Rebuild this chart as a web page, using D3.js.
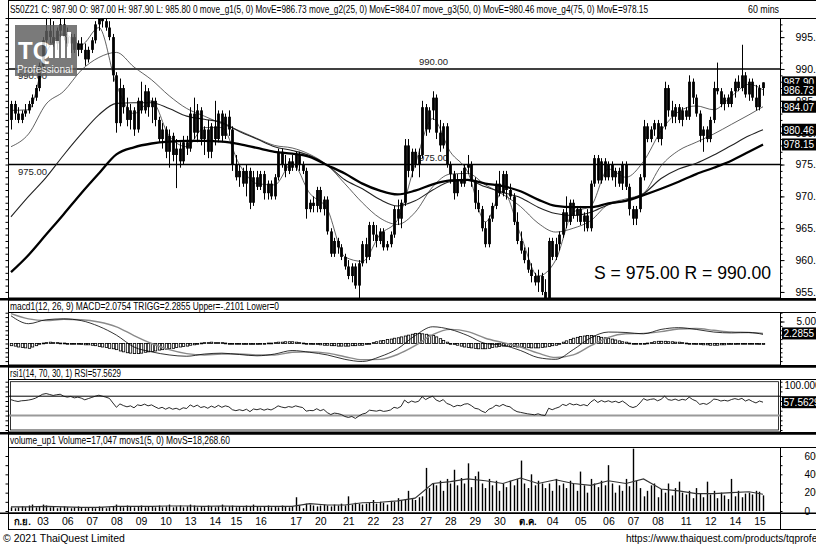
<!DOCTYPE html>
<html>
<head>
<meta charset="utf-8">
<script src="https://cdn.jsdelivr.net/npm/d3@7"></script>
<style>
  body { margin: 0; background: #fff; }
  text { font-family: "Liberation Sans", Arial, sans-serif; }
</style>
</head>
<body>
<svg id="chart" width="816" height="547"></svg>
<script>
// ---- data ----
const dayLabels = ["ก.ย.","03","06","07","08","09","10","13","14","15","16","17","20","21","22","23","27","28","29","30","ต.ค.","04","05","06","07","08","11","12","14","15"];
const dayStart  = [0,9,16,23,30,37,44,51,58,64,71,81,88,96,103,110,118,125,132,139,147,154,162,170,177,184,192,199,206,213];

// hourly bars: [open, high, low, close]
const candles = [
[982,985,980.5,984.5],[984.5,985,982,983],[983,984,981.5,982],[982,983.5,981.5,983],[983,984.5,982.5,983.5],
[983.5,985,983,984.5],[984.5,986,984,985.5],[985.5,987.5,985,987],[987,991,986.5,990.5],[990.5,995,990,994.5],
[994.5,998,993.5,996],[996,998,994,995],[995,997.5,993.5,994],[994,996.5,993,996],[996,998,995,997],
[997,998,994.5,995],[995,996.5,993.5,994],[994,995.5,992.5,995],[995,995.5,992.5,993],[993,994.5,992,994],
[994,995,992.5,993],[993,994,990.5,991.5],[991.5,993.5,991,993],[993,995,992.5,994.5],[994.5,997.5,994,997],
[997,999,996,998.5],[998.5,999.5,996.5,997.5],[997.5,999,996,996.5],[996.5,997.5,994.5,995],[995,995.5,988,989],
[989,989.5,980,981.5],[981.5,988.5,981,987],[987,987.5,983,984],[984,985.5,981,982],[982,984.5,980.5,983.5],
[983.5,984,979.5,980.5],[980.5,985.5,980,985],[985,988,983,983.5],[983.5,987.5,983,986.5],[986.5,987,982.5,984],
[984,985.5,981.5,985],[985,985.5,981,982],[982,982.5,978.5,979],[979,981.5,977.5,980.5],[980.5,981,976,977],
[977,980.5,974.5,979.5],[979.5,980,975.5,976.5],[976.5,979,971.3,977.5],[977.5,978.5,974.5,975.5],[975.5,979.5,975,978.5],
[978.5,979.5,976.5,977.5],[977.5,984,977,983],[983,985.5,979,980],[980,984.5,978.5,983.5],[983.5,984,978,979],
[979,981,976.5,980.5],[980.5,982,976,977],[977,981.5,976,981],[981,985,978,979],[979,983.5,978.5,983],
[983,983.5,978.5,979.5],[979.5,983,979,982.5],[982.5,983.5,979.5,980.5],[980.5,981,974,975],[975,976.5,972.5,973],
[973,975,971.5,974],[974,974.5,971.5,972],[972,975,970,974],[974,974.5,968,969],[969,974,968.5,973],
[973,974,971,971.5],[971.5,974,971,973.5],[973.5,974,969.5,970.5],[970.5,972.5,969.5,972],[972,972.5,969.5,970],
[970,973.5,969.5,973],[973,977.5,972.5,977],[977,977.5,974.5,975],[975,976.5,973,974],[974,976,973.5,975.5],
[975.5,976.5,974,974.5],[974.5,977,974,976.5],[976.5,977,974,975],[975,975.5,973.5,974],[974,974.5,966.5,968],
[968,969.5,967.5,969],[969,970,967.5,968.5],[968.5,971.5,967.5,971],[971,971.5,967.5,968],[968,970,967,969.5],
[969.5,970,964,964.5],[964.5,965,960.5,961],[961,963.5,960.5,963],[963,963.5,961,962],[962,962.5,960,960.5],
[960.5,961,958.5,959],[959,960,957,957.5],[957.5,959.5,956.5,959],[959,959.5,955.5,956],[956,960,954,959.5],
[959.5,963,959,962.5],[962.5,963.5,959.5,960.5],[960.5,966,960,965.5],[965.5,966,963,964],[964,965.5,962,963],
[963,965,962.5,964.5],[964.5,965,961.5,962],[962,963,961.5,962.5],[962.5,964.5,962,964],[964,968.5,963.5,968],
[968,969.5,965.5,966.5],[966.5,969.5,965,969],[969,979,968.5,978],[978,979,973,974],[974,977.5,973,977],
[977,977.5,974.5,975],[975,977.5,973,976.5],[976.5,985,976,984],[984,984.5,979.5,980.5],[980.5,984,980,983.5],
[983.5,986.5,982,985.5],[985.5,986,979,980],[980,982,977,978],[978,981.5,977.5,981],[981,981.5,974.5,975],
[975,975.5,972,973.5],[973.5,974,969.5,970.5],[970.5,973.5,970,972.5],[972.5,974,971.5,972],[972,975,971.5,974.5],
[974.5,976.5,973.5,975],[975,975.5,971.5,972.5],[972.5,973,968,969],[969,971,967.5,968],[968,968.5,964.5,965],
[965,966,962,962.5],[962.5,967,962,966.5],[966.5,969,966,968.5],[968.5,972.5,968,972],[972,974,970,970.5],
[970.5,974,970,973.5],[973.5,974,969.5,971],[971,972,969.5,970],[970,970.5,965.5,966],[966,967.5,962.5,963],
[963,964.5,961,961.5],[961.5,962,959.5,960],[960,962,958,958.5],[958.5,959.5,956.5,957.5],[957.5,958,956,956.5],
[956.5,958.5,955,957.5],[957.5,958,954.5,955],[955,957,953.5,954],[954,963.5,953.5,963],[963,963.5,960,960.5],
[960.5,963.5,960,962.5],[962.5,964.5,961.5,964],[964,968,963.5,967.5],[967.5,970,965,966],[966,969.5,965.5,969],
[969,969.5,966.5,967],[967,968.5,966,968],[968,968.5,965.5,966],[966,967.5,964.5,967],[967,968,964.5,965],
[965,972.5,964.5,972],[972,976.5,971.5,976],[976,976.5,972,972.5],[972.5,976,972,975.5],[975.5,976,972.5,973],
[973,975.5,972.5,975],[975,975.5,972.5,973],[973,974.5,971.5,974],[974,974.5,971.5,972],[972,975.5,971,975],
[975,975.5,971,971.5],[971.5,972,967,968],[968,968.5,965.5,966.5],[966.5,968.5,965.5,968],[968,973.5,967.5,973],
[973,982,972.5,981],[981,981.5,978.5,979],[979,981,978.5,980.5],[980.5,982,979.5,981.5],[981.5,982,978.5,979],
[979,981.5,978,981],[981,988,980.5,987],[987,987.5,982.5,983.5],[983.5,985,981.5,982.5],[982.5,984.5,981.5,984],
[984,984.5,981.5,982],[982,984,981,983.5],[983.5,984,982,982.5],[982.5,989,982,988],[988,988.5,984.5,985.5],
[985.5,986,982.5,983],[983,983.5,978.5,979.5],[979.5,981,977,980.5],[980.5,981,978.5,979],[979,982.5,978.5,982],
[982,988,981.5,987],[987,991,986,986.5],[986.5,987,984,984.5],[984.5,986,983.5,985.5],[985.5,986,984,984.5],
[984.5,987,984,986.5],[986.5,988.5,985.5,988],[988,989,986.5,987],[987,993.8,986.5,989],[989,989.5,985.5,986],
[986,988.5,985,988],[988,988.5,985,985.5],[985.5,987.5,983.5,984],[984,987.5,983.5,987],[987,987.9,985.8,987.9]
];

// indicator lines, read every 5 bars
const lineIdx = [0,5,10,15,20,25,30,35,40,45,50,55,60,65,70,75,80,85,90,95,100,105,110,115,120,125,130,135,140,145,150,155,160,165,170,175,180,185,190,195,200,205,210,214];
const moveG1 = [983.5,983.6,992.5,995.5,993.8,996.5,987.5,983,985,979.5,977.8,980.8,980.8,975,972,971.8,975.2,970.5,968,960.5,959.8,964,966.3,975,982.2,977,973.8,966,970.8,964,957.5,960,967.5,968.5,974.3,973,975.5,980.3,983.3,984.2,983.6,985.7,987.6,986.73];
const moveG2 = [977.8,979.8,984.5,986.5,989.8,991.8,992.6,990.3,988.3,985.8,983.8,982.6,981.4,980.3,979.1,978,977.6,976.6,974.9,972,969,966.6,965.6,967.5,971.5,973.5,973.6,971.8,970.3,968.4,965.8,964.4,965,966.2,968.8,969.6,970.5,974.8,977.2,978.5,979.8,981.3,982.8,984.07];
const moveG3 = [966.8,970,973,976.5,979.8,982.8,984.6,984.7,984.7,983.8,982.6,982.1,981.6,980.2,979,977.8,977.2,976.4,974.9,972.6,971.2,969.5,968.5,969.3,971,972.3,972.5,971.5,970.6,969.8,968.3,967.3,967,967.5,968.7,969.4,970.4,972.8,974.3,975.2,976.5,978,979.5,980.46];
const moveG4 = [958.1,960.8,964,967.2,970.5,973.6,976.6,977.7,978.3,978.6,978.7,978.7,978.6,978.2,977.6,977,976.7,976.2,974.9,973.6,972,970.9,970.3,970.9,971.9,972.5,972.6,972,971.6,970.8,969.5,968.5,968.3,968.3,968.9,969.3,970.2,971.2,972.3,973.5,974.5,975.6,977,978.15];

const macdVals = [6.3,4.5,5.4,5.6,5.2,3.9,1.9,-0.8,-1.9,-2.6,-2.9,-2.4,-2.2,-2.5,-2.8,-2.4,-1.6,-2.0,-2.6,-3.6,-4.1,-3.0,-1.2,1.8,3.8,3.2,1.8,0.0,-0.4,-1.6,-3.2,-3.6,-1.4,1.3,2.6,2.5,2.2,3.2,3.6,3.2,2.6,2.4,2.5,2.0754];
const triggVals = [6.8,5.6,5.2,5.5,5.4,4.9,3.8,1.8,0.0,-1.4,-2.3,-2.6,-2.4,-2.4,-2.6,-2.6,-2.0,-1.9,-2.2,-3.0,-3.7,-3.6,-2.5,-0.5,2.0,3.2,2.7,1.2,0.2,-0.8,-2.2,-3.2,-2.6,-0.5,1.4,2.2,2.3,2.7,3.3,3.4,3.0,2.6,2.5,2.2855];
const macdHist = [
-0.5,-0.6,-0.8,-0.9,-1.0,-1.1,-0.8,-0.5,-0.1,0.1,0.2,0.3,0.2,0.2,0.1,0.1,0.0,0.0,-0.1,-0.1,
-0.2,-0.3,-0.3,-0.4,-0.5,-0.7,-0.8,-0.9,-1.1,-1.2,-1.4,-1.7,-1.9,-2.1,-2.2,-2.3,-2.3,-2.2,-2.0,-1.9,
-1.8,-1.7,-1.5,-1.4,-1.3,-1.2,-1.1,-0.9,-0.8,-0.7,-0.6,-0.4,-0.3,-0.1,0.1,0.2,0.2,0.3,0.2,0.2,
0.2,0.1,0.0,0.0,-0.1,-0.1,-0.2,-0.2,-0.2,-0.2,-0.2,-0.1,0.0,0.1,0.1,0.2,0.3,0.3,0.4,0.4,
0.4,0.3,0.2,0.1,0.0,-0.1,-0.2,-0.2,-0.3,-0.4,-0.4,-0.5,-0.5,-0.6,-0.6,-0.6,-0.6,-0.5,-0.5,-0.4,
-0.4,-0.2,0.0,0.2,0.4,0.6,0.7,0.9,1.0,1.2,1.3,1.5,1.7,1.9,2.1,2.3,2.3,2.2,2.1,1.9,
1.8,1.5,1.1,0.7,0.3,0.0,-0.2,-0.4,-0.6,-0.8,-0.9,-1.0,-1.1,-1.2,-1.2,-1.2,-1.1,-0.9,-0.8,-0.7,
-0.6,-0.6,-0.7,-0.7,-0.8,-0.8,-0.9,-0.9,-1.0,-1.0,-1.0,-0.9,-0.8,-0.7,-0.5,-0.4,-0.1,0.3,0.6,0.9,
1.2,1.4,1.6,1.7,1.8,1.8,1.7,1.6,1.4,1.3,1.2,1.0,0.8,0.6,0.4,0.3,0.1,0.0,-0.1,-0.1,
-0.1,0.1,0.2,0.4,0.5,0.5,0.5,0.4,0.4,0.3,0.3,0.2,0.1,0.0,-0.1,-0.2,-0.2,-0.3,-0.3,-0.4,
-0.4,-0.4,-0.3,-0.3,-0.2,-0.2,-0.2,-0.1,-0.1,0.0,0.0,-0.1,-0.1,-0.2,-0.21
];

// RSI, one value per bar
const rsiVals = [
62.7,60.5,59,60.5,61,62,63.5,66,70,74, 75.5,73.5,71.5,73,74,70,68,69.5,66.5,68,
66,62.5,65,67.5,70,72,70,68,65.5,56, 47,54,50.5,48,50,46,52,50.5,53.5,50,
52,48,44.5,47,43,46.5,43,45,42,46, 44.5,52,48,51.5,46.5,48.5,45,49.5,46.5,51,
47,50,48,42,40,42,40,43,38,43.5, 42,44,41,43.5,41.5,45,50,47.5,46,48.5,
47,50,48,46.5,39,40.5,40,44,40,42.5, 36,32,35,34,32,28,26,28,24,29,
33,35,41,40,39,41,38.5,39.5,41.5,47, 45,49,62,56,60,57.5,59.5,69,63,67,
70,62,59,63,55,52.5,48,51,50,53.5, 54.5,50.5,45,43.5,39,36,43,46,51.5,49,
53,49.5,48,42,38,36.5,35,33.5,32.5,31.5, 33.5,31,30,45,42,45,47.5,53,50.5,55,
52,53.5,50.5,52.5,50,58,63,57,61,58, 60.5,57.5,59.5,56.5,60,55,49,46.5,49,56,
65,61.5,63.5,64.5,60.5,63.5,70,63,61.5,64, 61,63.5,62,68,63,60,53,55,53,57.5,
64,63,60,61.5,60,63,65,63,65.5,60, 63,59,56,60,57.5629
];

// volume in thousands of contracts
const volume = [
4,3,4,5,4,6,7,4,5,7, 6,4,5,3,4,5,4,3,4,5, 4,3,4,4,3,5,4,3,4,5, 7,5,4,6,5,4,5,6,4,5,
5,4,6,4,5,7,4,5,6,4, 5,7,6,4,5,4,6,5,4,5, 7,4,5,6,4,5,4,6,5,7, 5,4,5,6,4,5,4,6,5,4,
5,15,6,3,8,7,6,5,6,7, 6,5,7,6,8,6,16,7,9,8, 7,8,9,12,8,10,9,7,11,10, 14,12,13,22,13,12,15,16,47,25,
30,28,33,22,35,30,45,28,36,30, 52,26,38,43,30,25,35,28,33,22, 30,26,33,28,35,55,30,25,40,28,
33,30,25,30,22,35,28,30,25,33, 30,22,43,28,20,35,30,26,33,28, 50,30,20,28,22,35,27,68,33,25,
16,22,28,30,15,24,20,30,17,25, 32,20,18,22,14,25,19,15,32,18, 22,14,20,17,13,35,16,22,15,19,
20,18,22,21,17.047
];
const movS = [4.5,4.5,5,4.5,4,4,5,5,5,5.5,5.5,5,5.5,5,5,5,5,8,6.5,6.5,9,9.5,11,14,30,32,35,33,30,36,30,34,30,28,33,30,35,24,22,19,19,20,21,18.27];

const priceTicks = [955,960,965,970,975,980,985,990,995];
const srLevels = [975, 990];
const volTicks = [0,20,40,60];

// ---- layout ----
const W = 816, H = 547;
const plotL = 8, plotR = 780;
const FONT = '"Liberation Sans", Arial, sans-serif';
const NARROW = '"Liberation Sans Narrow", "Liberation Sans", Arial, sans-serif';

const svg = d3.select('#chart');
svg.append('rect').attr('width', W).attr('height', H).attr('fill', '#fff');

const x = d3.scaleLinear().domain([0, candles.length - 1]).range([11, 763]);
const yPrice = d3.scaleLinear().domain([954.05, 998]).range([298, 18]);
const yMacd = d3.scaleLinear().domain([-4.89, 7.16]).range([365, 312]);
const yRsi = d3.scaleLinear().domain([0, 100]).range([430, 381.7]);
const yVol = d3.scaleLinear().domain([0, 60]).range([511, 456]);

const defs = svg.append('defs');
function clip(id, top, bottom) {
  defs.append('clipPath').attr('id', id)
    .append('rect').attr('x', plotL + 1).attr('y', top).attr('width', plotR - plotL - 1).attr('height', bottom - top);
  return svg.append('g').attr('clip-path', `url(#${id})`);
}

// ---- main panel ----
const gMain = clip('clipMain', 18.5, 298);

// support / resistance lines
srLevels.forEach(v => {
  gMain.append('line')
    .attr('x1', plotL).attr('x2', plotR)
    .attr('y1', yPrice(v)).attr('y2', yPrice(v))
    .attr('stroke', '#000').attr('stroke-width', 1.6);
  gMain.append('text').attr('x', 18).attr('y', yPrice(v) + 10)
    .attr('font-size', 9.5).attr('fill', '#222').text(v.toFixed(2));
  gMain.append('text').attr('x', 419).attr('y', yPrice(v) - 4)
    .attr('font-size', 9.5).attr('fill', '#222').text(v.toFixed(2));
});

// moving averages
const maLine = vals => d3.line()
  .x((d, k) => x(lineIdx[k]))
  .y(d => yPrice(d))
  .curve(d3.curveMonotoneX)(vals);

[[moveG1, '#3a3a3a', 0.8], [moveG2, '#3a3a3a', 0.8], [moveG3, '#222', 1.1], [moveG4, '#000', 2.3]]
  .forEach(([vals, col, w]) => {
    gMain.append('path').attr('d', maLine(vals))
      .attr('fill', 'none').attr('stroke', col).attr('stroke-width', w);
  });

// candles
const cg = gMain.append('g');
candles.forEach((c, i) => {
  const [o, h, l, cl] = c;
  const cx = Math.round(x(i)) + 0.5;
  cg.append('line').attr('x1', cx).attr('x2', cx)
    .attr('y1', yPrice(h)).attr('y2', yPrice(l))
    .attr('stroke', '#000').attr('stroke-width', 1);
  const top = yPrice(Math.max(o, cl)), bot = yPrice(Math.min(o, cl));
  cg.append('rect')
    .attr('x', cx - 1.4).attr('width', 2.8)
    .attr('y', top).attr('height', Math.max(1, bot - top))
    .attr('fill', '#000');
});

// S / R text
svg.append('text').attr('x', 594).attr('y', 279)
  .attr('font-size', 18).attr('textLength', 177).attr('lengthAdjust', 'spacingAndGlyphs')
  .attr('fill', '#000').text('S = 975.00 R = 990.00');

// TQ logo watermark
const logo = svg.append('g').attr('opacity', 0.82);
logo.append('rect').attr('x', 15).attr('y', 25).attr('width', 62).attr('height', 51).attr('fill', '#5e5e5e');
logo.append('text').attr('x', 18).attr('y', 59).attr('font-size', 24).attr('font-weight', 'bold')
  .attr('fill', '#fff').text('TQ');
[[49, 45, 13], [55, 41, 17], [61, 36, 22], [67, 32, 26]].forEach(([bx, by, bh]) => {
  logo.append('rect').attr('x', bx).attr('y', by).attr('width', 4).attr('height', bh).attr('fill', '#fff');
});
logo.append('text').attr('x', 17).attr('y', 73).attr('font-size', 11)
  .attr('textLength', 56).attr('lengthAdjust', 'spacingAndGlyphs').attr('fill', '#fff').text('Professional');

// ---- MACD panel ----
const gMacd = clip('clipMacd', 312.5, 365);
macdHist.forEach((v, i) => {
  const cx = Math.round(x(i)) + 0.5;
  const y0 = yMacd(0), y1 = yMacd(v);
  gMacd.append('rect')
    .attr('x', cx - 1.2).attr('width', 2.4)
    .attr('y', Math.min(y0, y1)).attr('height', Math.max(0.8, Math.abs(y1 - y0)))
    .attr('fill', '#fff').attr('stroke', '#000').attr('stroke-width', 0.8);
});
const lineAt = (scale, idx, vals, curve) => d3.line()
  .x((d, k) => x(idx[k])).y(d => scale(d)).curve(curve)(vals);
gMacd.append('path').attr('d', lineAt(yMacd, lineIdx, triggVals, d3.curveMonotoneX))
  .attr('fill', 'none').attr('stroke', '#8a8a8a').attr('stroke-width', 1.4);
gMacd.append('path').attr('d', lineAt(yMacd, lineIdx, macdVals, d3.curveMonotoneX))
  .attr('fill', 'none').attr('stroke', '#000').attr('stroke-width', 0.8);

// ---- RSI panel ----
const gRsi = clip('clipRsi', 379.5, 432);
gRsi.append('rect').attr('x', plotL + 2.5).attr('y', yRsi(100)).attr('width', plotR - plotL - 4)
  .attr('height', yRsi(0) - yRsi(100)).attr('fill', 'none').attr('stroke', '#000').attr('stroke-width', 0.8);
gRsi.append('line').attr('x1', plotL).attr('x2', plotR).attr('y1', yRsi(70)).attr('y2', yRsi(70))
  .attr('stroke', '#000').attr('stroke-width', 1);
gRsi.append('line').attr('x1', plotL).attr('x2', plotR).attr('y1', yRsi(30)).attr('y2', yRsi(30))
  .attr('stroke', '#9a9a9a').attr('stroke-width', 2);
gRsi.append('path').attr('d', lineAt(yRsi, d3.range(rsiVals.length), rsiVals, d3.curveLinear))
  .attr('fill', 'none').attr('stroke', '#111').attr('stroke-width', 0.9);

// ---- Volume panel ----
const gVol = clip('clipVol', 447.5, 513);
volume.forEach((v, i) => {
  const cx = Math.round(x(i)) + 0.5;
  gVol.append('rect')
    .attr('x', cx - 0.7).attr('width', 1.4)
    .attr('y', yVol(v)).attr('height', yVol(0) - yVol(v))
    .attr('fill', '#000');
});
gVol.append('path').attr('d', lineAt(yVol, lineIdx, movS, d3.curveLinear))
  .attr('fill', 'none').attr('stroke', '#333').attr('stroke-width', 1.1);

// ---- frames ----
const frame = svg.append('g').attr('fill', 'none').attr('stroke', '#000');
[[0.5, 18.5], [300, 312.5], [367, 379.5], [434, 447.5]].forEach(([t, b]) => {
  frame.append('rect').attr('x', plotL + 0.5).attr('y', t).attr('width', W - plotL).attr('height', b - t).attr('stroke-width', 1);
});
[[18.5, 298], [312.5, 365], [379.5, 432], [447.5, 513]].forEach(([t, b]) => {
  frame.append('rect').attr('x', plotL + 0.5).attr('y', t).attr('width', plotR - plotL).attr('height', b - t).attr('stroke-width', 1);
});
// thick separators
[[298, 2.5], [365, 2.5], [432, 2.5], [512.5, 1.5]].forEach(([t, h]) => {
  svg.append('rect').attr('x', 0).attr('y', t).attr('width', W).attr('height', h).attr('fill', '#000');
});
svg.append('line').attr('x1', plotL + 0.5).attr('x2', W).attr('y1', 529.5).attr('y2', 529.5).attr('stroke', '#000');
svg.append('line').attr('x1', plotL + 0.5).attr('x2', plotL + 0.5).attr('y1', 513).attr('y2', 530).attr('stroke', '#000');
svg.append('line').attr('x1', plotR + 0.5).attr('x2', plotR + 0.5).attr('y1', 513).attr('y2', 530).attr('stroke', '#000');

// ---- axes ----
function styleAxis(g, size) {
  g.select('.domain').remove();
  g.selectAll('text').attr('font-family', FONT).attr('font-size', size || 10.5).attr('fill', '#000');
  g.selectAll('line').attr('stroke', '#000');
}
// minor ticks on both edges
[[yPrice, d3.range(955, 999)], [yMacd, d3.range(-4, 8)], [yRsi, d3.range(0, 101, 10)], [yVol, d3.range(0, 61, 10)]]
  .forEach(([sc, vals]) => {
    svg.append('g').attr('transform', `translate(${plotL + 0.5},0)`)
      .call(d3.axisLeft(sc).tickValues(vals).tickSize(3).tickFormat(''))
      .call(g => styleAxis(g));
    svg.append('g').attr('transform', `translate(${plotR + 0.5},0)`)
      .call(d3.axisRight(sc).tickValues(vals).tickSize(2).tickFormat(''))
      .call(g => styleAxis(g));
  });

svg.append('g').attr('transform', `translate(${plotR + 0.5},0)`)
  .call(d3.axisRight(yPrice).tickValues(priceTicks).tickSize(4).tickPadding(11).tickFormat(d3.format('.2f')))
  .call(g => styleAxis(g, 10.5));
svg.append('g').attr('transform', `translate(${plotR + 0.5},0)`)
  .call(d3.axisRight(yMacd).tickValues([5]).tickSize(4).tickPadding(12).tickFormat(d3.format('.4f')))
  .call(g => styleAxis(g, 10));
svg.append('g').attr('transform', `translate(${plotR + 0.5},4)`)
  .call(d3.axisRight(yRsi).tickValues([100]).tickSize(0).tickPadding(4).tickFormat(d3.format('.4f')))
  .call(g => styleAxis(g, 10));
svg.append('g').attr('transform', `translate(${plotR + 0.5},0)`)
  .call(d3.axisRight(yVol).tickValues(volTicks).tickSize(0).tickPadding(24).tickFormat(d => d * 1000))
  .call(g => styleAxis(g, 10));

// value boxes
function valueBox(y, label) {
  svg.append('rect').attr('x', 782).attr('y', y - 6).attr('width', 40).attr('height', 12).attr('fill', '#000');
  svg.append('text').attr('x', 783.5).attr('y', y + 4).attr('font-size', 10).attr('fill', '#fff').text(label);
}
const last = candles[candles.length - 1];
valueBox(yPrice(last[3]), last[3].toFixed(2));
valueBox(yPrice(moveG1[moveG1.length - 1]), '986.73');
valueBox(yPrice(moveG2[moveG2.length - 1]), '984.07');
valueBox(yPrice(moveG3[moveG3.length - 1]), '980.46');
valueBox(yPrice(moveG4[moveG4.length - 1]), '978.15');
valueBox(yMacd(triggVals[triggVals.length - 1]), '2.2855');
valueBox(yRsi(rsiVals[rsiVals.length - 1]), '57.5629');

// date axis
svg.append('g').attr('transform', 'translate(0,514)')
  .call(d3.axisBottom(x).tickValues(dayStart).tickSize(0).tickPadding(4)
    .tickFormat((d, k) => dayLabels[k]))
  .call(g => styleAxis(g, 10.5))
  .call(g => g.selectAll('.tick').each(function (d, k) {
    const t = d3.select(this).select('text');
    if (k === 0) t.attr('text-anchor', 'start').attr('x', 2);
    if (isNaN(+dayLabels[k])) t.attr('font-weight', 'bold').attr('font-size', 9.5);
  }));

// ---- header texts ----
function header(xp, yp, str, len, size) {
  svg.append('text').attr('x', xp).attr('y', yp).attr('font-size', size || 11.5)
    .attr('font-family', NARROW)
    .attr('textLength', len).attr('lengthAdjust', 'spacingAndGlyphs').attr('fill', '#000').text(str);
}
header(10, 13, 'S50Z21 C: 987.90 O: 987.00 H: 987.90 L: 985.80 0 move_g1(5, 0) MovE=986.73 move_g2(25, 0) MovE=984.07 move_g3(50, 0) MovE=980.46 move_g4(75, 0) MovE=978.15', 638);
header(748, 13, '60 mins', 31);
header(10, 310, 'macd1(12, 26, 9) MACD=2.0754 TRIGG=2.2855 Upper=-.2101 Lower=0', 269, 11);
header(10, 377, 'rsi1(14, 70, 30, 1) RSI=57.5629', 111, 11);
header(10, 444, 'volume_up1 Volume=17,047 movs1(5, 0) MovS=18,268.60', 220, 11);

svg.append('text').attr('x', 3).attr('y', 542).attr('font-size', 10.5).attr('fill', '#000').text('© 2021 ThaiQuest Limited');
svg.append('text').attr('x', 626).attr('y', 542).attr('font-size', 10).attr('fill', '#000')
  .text('https://www.thaiquest.com/products/tqprofessional');
</script>
</body>
</html>
